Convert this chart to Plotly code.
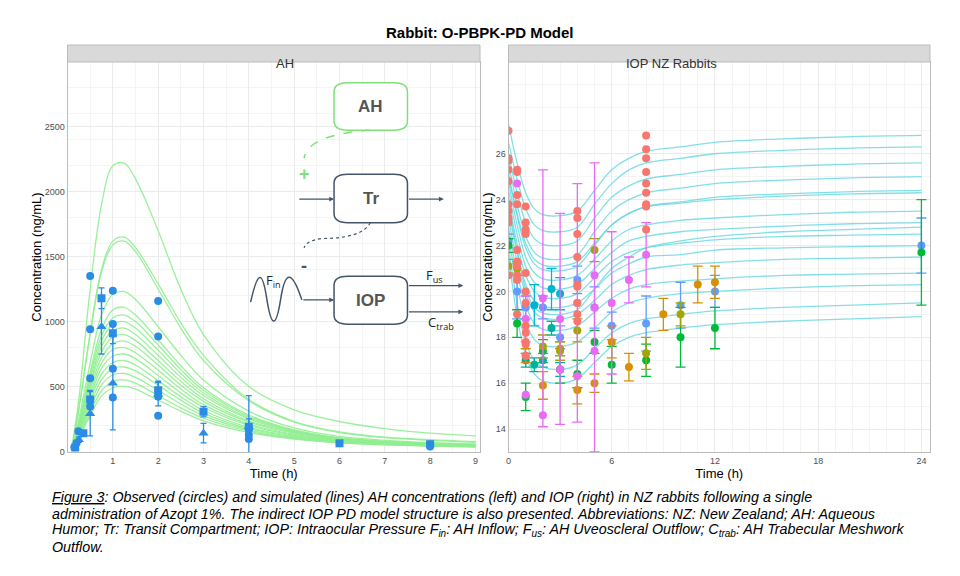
import plotly.graph_objects as go

# ---------------- AH panel data ----------------
ah_time = [0.1, 0.25, 0.5, 0.75, 1, 1.25, 1.5, 2, 2.5, 3, 4, 5, 6, 7, 8, 9]
ah_sim = [
    [40, 400, 1250, 1900, 2200, 2220, 2100, 1700, 1250, 900, 500, 320, 230, 175, 140, 120],
    [33, 330, 910, 1400, 1620, 1650, 1570, 1290, 990, 740, 400, 230, 150, 110, 90, 75],
    [30, 320, 900, 1380, 1590, 1620, 1540, 1250, 950, 700, 390, 225, 145, 105, 85, 70],
    [25, 250, 680, 1050, 1210, 1230, 1170, 960, 740, 550, 310, 180, 115, 85, 68, 58],
    [22, 220, 610, 940, 1090, 1110, 1050, 860, 660, 490, 280, 165, 105, 78, 62, 52],
    [21, 210, 580, 890, 1030, 1050, 1000, 820, 630, 470, 270, 160, 100, 75, 60, 50],
    [20, 200, 550, 850, 980, 1000, 950, 780, 600, 450, 260, 155, 100, 72, 58, 48],
    [19, 190, 520, 810, 930, 950, 900, 740, 570, 430, 250, 150, 95, 70, 56, 47],
    [18, 180, 500, 765, 880, 900, 855, 700, 540, 405, 235, 145, 92, 68, 54, 46],
    [17, 170, 470, 720, 830, 850, 810, 665, 510, 385, 225, 140, 90, 66, 52, 44],
    [16, 160, 440, 680, 785, 800, 760, 625, 480, 360, 210, 130, 85, 63, 50, 42],
    [15, 150, 410, 640, 735, 750, 715, 585, 450, 340, 200, 125, 82, 60, 48, 40],
    [14, 140, 385, 595, 685, 700, 665, 545, 420, 315, 185, 118, 78, 58, 46, 38],
    [13, 130, 360, 550, 640, 650, 620, 510, 395, 295, 175, 112, 75, 56, 45, 37],
    [12, 120, 330, 510, 590, 600, 570, 470, 365, 275, 165, 106, 72, 54, 43, 36],
    [11, 110, 300, 465, 540, 550, 525, 430, 335, 255, 155, 100, 68, 52, 42, 35],
    [10, 100, 275, 425, 490, 500, 480, 395, 310, 235, 145, 95, 65, 50, 40, 34],
]
ah_circ_t = [0.15, 0.2, 0.24, 0.5, 0.5, 0.5, 0.5, 1, 1, 1, 1, 2, 2, 2, 2, 4, 4, 4, 8, 8]
ah_circ_y = [31, 64, 154, 1351, 941, 564, 346, 1238, 982, 636, 415, 1159, 885, 423, 274, 167, 95, 128, 51, 38]
ah_sq_t = [0.17, 0.35, 0.5, 0.75, 1, 2, 3, 4, 6, 8]
ah_sq_y = [30, 140, 400, 1180, 910, 470, 305, 190, 62, 55]
ah_sq_sd = [10, 20, 70, 80, 80, 70, 40, 240, 10, 10]
ah_tri_t = [0.25, 0.5, 0.75, 1, 2, 3, 4]
ah_tri_y = [90, 290, 960, 525, 440, 140, 190]
ah_tri_sd = [20, 170, 210, 360, 90, 75, 60]

# ---------------- IOP panel data ----------------
iop_time = [0, 0.5, 1, 1.5, 2, 3, 4, 5, 6, 7, 8, 10, 12, 16, 20, 24]
iop_sim = [
    [27.3, 25.6, 24.3, 23.6, 23.35, 23.3, 23.5, 24.4, 25.3, 25.8, 26.1, 26.3, 26.5, 26.65, 26.75, 26.8],
    [26.5, 24.9, 23.6, 22.9, 22.65, 22.6, 22.8, 23.8, 24.7, 25.3, 25.6, 25.8, 26.0, 26.15, 26.25, 26.3],
    [26.0, 24.3, 23.0, 22.3, 22.05, 22.0, 22.2, 23.2, 24.1, 24.6, 24.9, 25.1, 25.3, 25.45, 25.55, 25.6],
    [25.6, 23.8, 22.4, 21.7, 21.45, 21.4, 21.6, 22.6, 23.5, 24.0, 24.3, 24.5, 24.7, 24.85, 24.95, 25.0],
    [25.2, 23.3, 21.9, 21.2, 20.95, 20.9, 21.1, 22.0, 22.9, 23.4, 23.7, 23.9, 24.1, 24.25, 24.35, 24.4],
    [25.0, 23.4, 22.1, 21.4, 21.15, 21.1, 21.3, 22.1, 22.9, 23.4, 23.7, 23.85, 24.0, 24.15, 24.25, 24.3],
    [24.8, 22.9, 21.5, 20.8, 20.55, 20.5, 20.7, 21.4, 22.2, 22.7, 22.9, 23.1, 23.2, 23.35, 23.45, 23.5],
    [24.4, 22.5, 21.1, 20.4, 20.15, 20.1, 20.3, 21.0, 21.7, 22.2, 22.4, 22.6, 22.7, 22.85, 22.95, 23.0],
    [23.8, 21.8, 20.1, 19.3, 19.05, 19.0, 19.2, 20.1, 21.0, 21.5, 21.9, 22.2, 22.4, 22.6, 22.7, 22.8],
    [24.0, 22.1, 20.7, 20.0, 19.75, 19.7, 19.9, 20.6, 21.3, 21.7, 21.9, 22.1, 22.25, 22.4, 22.45, 22.5],
    [23.6, 21.7, 20.3, 19.6, 19.35, 19.3, 19.5, 20.1, 20.8, 21.2, 21.5, 21.6, 21.8, 21.9, 21.95, 22.0],
    [23.2, 21.3, 19.9, 19.1, 18.85, 18.8, 19.0, 19.6, 20.3, 20.7, 20.95, 21.15, 21.25, 21.4, 21.45, 21.5],
    [22.8, 20.8, 19.4, 18.6, 18.35, 18.3, 18.5, 19.1, 19.7, 20.1, 20.3, 20.45, 20.55, 20.7, 20.75, 20.8],
    [22.4, 20.3, 18.7, 17.9, 17.65, 17.6, 17.8, 18.4, 19.1, 19.5, 19.7, 19.9, 20.0, 20.15, 20.25, 20.3],
    [22.0, 19.5, 17.8, 17.0, 16.7, 16.6, 16.8, 17.5, 18.2, 18.6, 18.8, 19.0, 19.15, 19.3, 19.4, 19.5],
    [21.6, 18.9, 17.2, 16.4, 16.1, 16.0, 16.2, 16.9, 17.6, 18.0, 18.2, 18.4, 18.55, 18.7, 18.8, 18.9],
]
# individual observations (no error bars)
red_t = [0] * 10 + [0.5] * 10 + [1] * 12 + [4] * 9 + [8] * 9
red_y = [27.0, 25.8, 25.7, 25.3, 24.8, 23.8, 23.5, 23.2, 23.0, 20.7,
         25.3, 25.2, 24.2, 23.8, 21.8, 21.3, 21.1, 20.7, 20.5, 19.0,
         23.7, 23.0, 22.7, 22.5, 20.8, 20.0, 19.5, 18.5, 18.2, 17.8, 17.7, 17.2,
         23.5, 23.2, 22.5, 21.5, 20.3, 20.2, 19.5, 19.0, 18.7,
         26.8, 26.2, 25.8, 25.2, 24.7, 24.3, 23.8, 23.7, 22.7]
pink_t = [0.5, 1, 2, 3, 4, 5, 5]
pink_y = [24.7, 15.5, 14.6, 16.6, 16.3, 17.4, 20.7]
# group means +- SD
groups = {
    "#619CFF": ([0, 0.5, 1, 2, 3, 4, 5, 6, 8, 10, 12, 24],
                [22.2, 20.0, 19.3, 19.3, 18.0, 20.5, 19.3, 18.5, 18.6, 19.4, 20.0, 22.0],
                [0.3, 1.2, 0.5, 0.5, 0.5, 0.6, 0.9, 0.6, 1.2, 1.0, 0.7, 1.2]),
    "#00BA38": ([0, 0.5, 1, 2, 3, 4, 5, 6, 8, 10, 12, 24],
                [22.0, 18.6, 15.4, 17.4, 16.6, 16.4, 17.8, 16.8, 17.0, 18.0, 18.4, 21.7],
                [0.3, 0.6, 0.6, 0.5, 0.6, 0.6, 0.5, 0.8, 0.7, 1.3, 0.9, 2.3]),
    "#00B0A0": ([1, 1.5, 2, 2.5, 3],
                [17.0, 16.8, 17.0, 18.4, 16.6],
                [0.3, 0.3, 0.3, 0.3, 0.3]),
    "#00B4D0": ([1.5, 2.5, 3],
                [19.4, 20.1, 19.9],
                [0.9, 0.9, 0.7]),
    "#D89000": ([1, 2, 3, 4, 5, 6, 7, 9, 11, 12],
                [17.2, 15.9, 17.5, 15.7, 16.0, 17.8, 16.7, 19.0, 20.3, 20.4],
                [0.3, 0.6, 0.3, 0.6, 0.4, 0.7, 0.6, 0.7, 0.8, 0.7]),
    "#A3A500": ([0, 0.5, 2, 3, 4, 5, 8, 10],
                [21.1, 21.0, 17.6, 17.4, 18.3, 21.8, 17.3, 19.0],
                [0.3, 0.3, 0.5, 0.4, 0.5, 0.5, 0.7, 0.5]),
    "#E76BF3": ([1, 2, 3, 4, 5, 6, 7, 8],
                [18.8, 19.7, 18.8, 19.5, 19.3, 19.5, 20.5, 21.6],
                [1.0, 5.6, 4.6, 5.2, 6.3, 3.1, 1.0, 1.4]),
}

# page has an 8px body margin; convert screen pixels to paper coords
W, H, OFF = 944, 560, 8


def px(x):
    return (x - OFF) / W


def py(y):
    return 1 - (y - OFF) / H


fig = go.Figure()

for ys in ah_sim:
    fig.add_trace(go.Scatter(x=ah_time, y=ys, mode="lines", line=dict(color="rgba(144,238,144,0.9)", width=1.3, shape="spline"),
                             xaxis="x", yaxis="y", hoverinfo="skip"))
fig.add_trace(go.Scatter(x=ah_sq_t, y=ah_sq_y, mode="markers", marker=dict(symbol="square", size=8, color="#2B8CE6"),
                         error_y=dict(type="data", array=ah_sq_sd, color="#2B8CE6", width=3, thickness=1.3), xaxis="x", yaxis="y"))
fig.add_trace(go.Scatter(x=ah_tri_t, y=ah_tri_y, mode="markers", marker=dict(symbol="triangle-up", size=9, color="#2B8CE6"),
                         error_y=dict(type="data", array=ah_tri_sd, color="#2B8CE6", width=3, thickness=1.3), xaxis="x", yaxis="y"))
fig.add_trace(go.Scatter(x=ah_circ_t, y=ah_circ_y, mode="markers", marker=dict(size=8, color="#2B8CE6"), xaxis="x", yaxis="y"))

for ys in iop_sim:
    fig.add_trace(go.Scatter(x=iop_time, y=ys, mode="lines", line=dict(color="rgba(100,215,225,0.8)", width=1.3, shape="spline"),
                             xaxis="x2", yaxis="y2", hoverinfo="skip"))
for col, (t, y, sd) in groups.items():
    fig.add_trace(go.Scatter(x=t, y=y, mode="markers", marker=dict(size=8, color=col),
                             error_y=dict(type="data", array=sd, color=col, width=5, thickness=1.3), xaxis="x2", yaxis="y2"))
fig.add_trace(go.Scatter(x=red_t, y=red_y, mode="markers", marker=dict(size=8, color="#F8766D"), xaxis="x2", yaxis="y2"))
fig.add_trace(go.Scatter(x=pink_t, y=pink_y, mode="markers", marker=dict(size=8, color="#E76BF3"), xaxis="x2", yaxis="y2"))

# ---------------- model diagram (left panel) ----------------
navy = "#44546A"
green = "#7FE07A"


def box(x0, y0, x1, y1, color, label):
    rx, ry = 0.3, 70
    path = (f"M {x0+rx} {y0} L {x1-rx} {y0} Q {x1} {y0} {x1} {y0+ry} L {x1} {y1-ry} Q {x1} {y1} {x1-rx} {y1} "
            f"L {x0+rx} {y1} Q {x0} {y1} {x0} {y1-ry} L {x0} {y0+ry} Q {x0} {y0} {x0+rx} {y0} Z")
    fig.add_shape(type="path", xref="x", yref="y", path=path, line=dict(color=color, width=1.5), fillcolor="white")
    fig.add_annotation(x=(x0 + x1) / 2, y=(y0 + y1) / 2, xref="x", yref="y", text="<b>%s</b>" % label,
                       showarrow=False, font=dict(size=17, color="#555555"))


box(5.88, 2475, 7.5, 2840, green, "AH")
box(5.88, 1762, 7.5, 2135, navy, "Tr")
box(5.88, 980, 7.5, 1350, navy, "IOP")


def arrow(x0, y0, x1, y1):
    fig.add_annotation(x=x1, y=y1, ax=x0, ay=y0, xref="x", yref="y", axref="x", ayref="y", text="",
                       showarrow=True, arrowhead=2, arrowsize=0.8, arrowwidth=1.2, arrowcolor=navy)


arrow(5.08, 1944, 5.88, 1944)
arrow(7.5, 1944, 8.3, 1944)
arrow(5.17, 1167, 5.88, 1167)
arrow(7.5, 1277, 8.73, 1277)
arrow(7.5, 1075, 8.73, 1075)
fig.add_shape(type="path", xref="x", yref="y", path="M 6.68 2475 Q 5.3 2440 5.22 2260",
              line=dict(color=green, width=1.5, dash="dash"))
fig.add_shape(type="path", xref="x", yref="y", path="M 6.68 1762 Q 6.5 1640 5.6 1640 Q 5.25 1620 5.22 1567",
              line=dict(color=navy, width=1.2, dash="dot"))
fig.add_shape(type="path", xref="x", yref="y",
              path="M 4.04 1150 C 4.2 1400, 4.3 1400, 4.4 1167 C 4.5 950, 4.6 950, 4.7 1167 C 4.8 1400, 4.95 1400, 5.17 1167",
              line=dict(color=navy, width=1.5))
fig.add_annotation(x=5.22, y=2135, xref="x", yref="y", text="<b>+</b>", showarrow=False, font=dict(size=18, color=green))
fig.add_annotation(x=5.22, y=1428, xref="x", yref="y", text="<b>-</b>", showarrow=False, font=dict(size=18, color=navy))
for txt, x, y in [("F<sub>in</sub>", 4.55, 1310), ("F<sub>us</sub>", 8.1, 1350), ("C<sub>trab</sub>", 8.25, 990)]:
    fig.add_annotation(x=x, y=y, xref="x", yref="y", text=txt, showarrow=False,
                       font=dict(size=13, color="#222222", family="Open Sans"))

# ---------------- layout ----------------
axis_common = dict(showline=True, linecolor="#BBBBBB", mirror=True, gridcolor="#EBEBEB", zeroline=False,
                   tickfont=dict(size=9, color="#4D4D4D"), ticks="", showgrid=True, automargin=False,
                   minor=dict(showgrid=True, gridcolor="#F4F4F4"))
ydom = [py(452), py(62)]
fig.update_layout(
    width=W, height=H, showlegend=False, plot_bgcolor="white", paper_bgcolor="white",
    margin=dict(l=0, r=0, t=0, b=0), font=dict(family="Liberation Sans, Arial"),
    xaxis=dict(domain=[px(67.5), px(480)], range=[0, 9.1], tickvals=list(range(1, 10)), anchor="y",
               title=dict(text="Time (h)", font=dict(size=13, color="black"), standoff=0), **axis_common),
    yaxis=dict(domain=ydom, range=[-5, 3000], tickvals=[0, 500, 1000, 1500, 2000, 2500], anchor="x",
               title=dict(text="Concentration (ng/mL)", font=dict(size=13, color="black"), standoff=0), **axis_common),
    xaxis2=dict(domain=[px(508.5), px(930)], range=[0, 24.5], tickvals=[0, 6, 12, 18, 24], anchor="y2",
                title=dict(text="Time (h)", font=dict(size=13, color="black"), standoff=0), **axis_common),
    yaxis2=dict(domain=ydom, range=[13, 30], tickvals=[14, 16, 18, 20, 22, 24, 26], anchor="x2",
                title=dict(text="Concentration (ng/mL)", font=dict(size=13, color="black"), standoff=0), **axis_common),
)

# strips
for x0, x1, label in [(67.5, 480, "AH"), (508.5, 930, "IOP NZ Rabbits")]:
    fig.add_shape(type="rect", xref="paper", yref="paper", x0=px(x0), x1=px(x1), y0=py(62), y1=py(45),
                  fillcolor="#D9D9D9", line=dict(color="#BBBBBB", width=1))
    fig.add_annotation(x=px((x0 + x1) / 2), y=py(53.5), xref="paper", yref="paper", text=label, showarrow=False,
                       font=dict(size=13, color="#333333"))

fig.add_annotation(x=px(480), y=py(33), xref="paper", yref="paper", text="<b>Rabbit: O-PBPK-PD Model</b>",
                   showarrow=False, yanchor="middle", font=dict(size=15, color="black"))

caption = [
    "<i><u>Figure 3</u>: Observed (circles) and simulated (lines) AH concentrations (left) and IOP (right) in NZ rabbits following a single</i>",
    "<i>administration of Azopt 1%. The indirect IOP PD model structure is also presented. Abbreviations: NZ: New Zealand; AH: Aqueous</i>",
    "<i>Humor; Tr: Transit Compartment; IOP: Intraocular Pressure F<sub>in</sub>: AH Inflow; F<sub>us</sub>: AH Uveoscleral Outflow; C<sub>trab</sub>: AH Trabecular Meshwork</i>",
    "<i>Outflow.</i>",
]
for i, line in enumerate(caption):
    fig.add_annotation(x=px(50), y=py(497 + 16.5 * i), xref="paper", yref="paper", text=line,
                       showarrow=False, xanchor="left", yanchor="middle", font=dict(size=14.3, color="black"))

fig.write_html("out.html")
